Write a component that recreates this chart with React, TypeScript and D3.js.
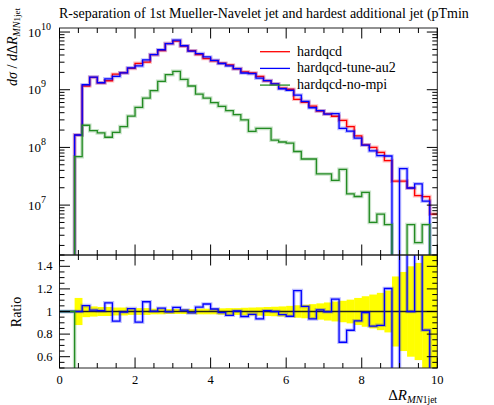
import React from 'react';
import * as d3 from 'd3';

// bins of 0.2 in Delta R, low edges
const binLow = [
  0.4, 0.6, 0.8, 1.0, 1.2, 1.4, 1.6, 1.8, 2.0, 2.2,
  2.4, 2.6, 2.8, 3.0, 3.2, 3.4, 3.6, 3.8, 4.0, 4.2,
  4.4, 4.6, 4.8, 5.0, 5.2, 5.4, 5.6, 5.8, 6.0, 6.2,
  6.4, 6.6, 6.8, 7.0, 7.2, 7.4, 7.6, 7.8, 8.0, 8.2,
  8.4, 8.6, 8.8, 9.0, 9.2, 9.4, 9.6, 9.8,
];
const xMax = 10;

const labels = ['hardqcd', 'hardqcd-tune-au2', 'hardqcd-no-mpi'];

const hardqcd = [
  1.64e8, 1.16e9, 1.64e9, 1.31e9, 1.43e9, 1.86e9, 1.97e9, 2.34e9, 2.86e9, 3.02e9,
  4.05e9, 4.79e9, 6.31e9, 6.98e9, 5.71e9, 4.74e9, 4.07e9, 3.47e9, 3.16e9, 2.88e9,
  2.69e9, 2.31e9, 2.04e9, 1.95e9, 1.70e9, 1.43e9, 1.26e9, 1.07e9, 1.02e9, 6.82e8,
  6.03e8, 5.21e8, 4.27e8, 3.80e8, 3.47e8, 2.94e8, 2.29e8, 1.58e8, 1.11e8, 1.0e8,
  8.2e7, 5.9e7, 2.6e7, 2.6e7, 1.98e7, 1.46e7, 1.40e7, 7.0e6,
];
const tuneAu2 = [
  1.64e8, 1.22e9, 1.66e9, 1.32e9, 1.54e9, 1.70e9, 1.96e9, 2.40e9, 2.59e9, 3.28e9,
  4.06e9, 4.93e9, 6.29e9, 7.23e9, 5.78e9, 4.68e9, 4.23e9, 3.70e9, 3.23e9, 2.85e9,
  2.60e9, 2.32e9, 1.95e9, 1.90e9, 1.59e9, 1.44e9, 1.26e9, 1.04e9, 9.77e8, 8.08e8,
  6.30e8, 4.87e8, 4.33e8, 3.79e8, 3.85e8, 2.14e8, 1.91e8, 1.45e8, 1.10e8, 8.7e7,
  7.2e7, 7.1e7, 0, 4.3e7, 1.98e7, 2.34e7, 1.17e7, 0,
];
const noMpi = [
  6.9e7, 2.42e8, 1.95e8, 1.78e8, 1.50e8, 1.82e8, 2.29e8, 3.50e8, 4.95e8, 7.18e8,
  9.62e8, 1.40e9, 1.82e9, 2.08e9, 1.51e9, 1.16e9, 8.41e8, 7.18e8, 5.96e8, 5.15e8,
  4.33e8, 3.69e8, 2.99e8, 1.90e8, 2.14e8, 2.14e8, 1.34e8, 1.24e8, 1.19e8, 8.5e7,
  6.3e7, 6.3e7, 3.47e7, 3.47e7, 2.68e7, 4.17e7, 1.57e7, 1.41e7, 1.66e7, 5.0e6,
  7.0e6, 4.6e6, 0, 0, 4.6e6, 2.24e6, 4.6e6, 0,
];

// relative uncertainty of the reference (hardqcd), shown as the yellow band
const errHardqcd = [
  0.12, 0.05, 0.045, 0.04, 0.04, 0.035, 0.035, 0.03, 0.03, 0.03,
  0.025, 0.025, 0.022, 0.022, 0.022, 0.022, 0.025, 0.025, 0.025, 0.028,
  0.03, 0.03, 0.033, 0.035, 0.037, 0.04, 0.042, 0.045, 0.05, 0.055,
  0.06, 0.065, 0.072, 0.08, 0.088, 0.095, 0.105, 0.12, 0.135, 0.15,
  0.165, 0.185, 0.31, 0.35, 0.4, 0.43, 0.5, 0.6,
];

const xTickLabels = [0, 2, 4, 6, 8, 10];
const yDecades = [7, 8, 9, 10];
const ratioTickLabels = [0.6, 0.8, 1, 1.2, 1.4];

const W = 494;
const H = 405;
const X0 = 59.5;
const X1 = 437.3;
const MT = 28;
const MB = 255;
const RT = 255;
const RB = 368;
const FONT = '"Liberation Serif", "DejaVu Serif", serif';
const FLOOR = 1e4;

export default function App() {
  const x = d3.scaleLinear().domain([0, xMax]).range([X0, X1]);
  const y = d3.scaleLog().domain([Math.pow(10, 6.135), Math.pow(10, 10.07)]).range([MB, MT]);
  const r = d3.scaleLinear().domain([0.5, 1.5]).range([RB, RT]);

  const series = [
    { name: labels[0], values: hardqcd, color: '#ff0000' },
    { name: labels[1], values: tuneAu2, color: '#0000ff' },
    { name: labels[2], values: noMpi, color: '#228b22' },
  ];

  const stepMain = d3.line<[number, number]>()
    .x(d => x(d[0]))
    .y(d => y(Math.max(d[1], FLOOR)))
    .curve(d3.curveStepAfter);
  const stepRatio = d3.line<[number, number]>()
    .x(d => x(d[0]))
    .y(d => r(d[1]))
    .curve(d3.curveStepAfter);

  const mainPts = (vals: number[]): [number, number][] => [
    [0, 0],
    ...binLow.map((lo, i) => [lo, vals[i]] as [number, number]),
    [xMax, vals[vals.length - 1]],
  ];
  const ratioPts = (vals: number[]): [number, number][] => {
    const rs = vals.map((v, i) => v / hardqcd[i]);
    return [[0, 1], ...binLow.map((lo, i) => [lo, rs[i]] as [number, number]), [xMax, rs[rs.length - 1]]];
  };

  const bw = x(0.2) - x(0);

  // ticks
  const xMinor = d3.range(0, xMax + 0.001, 0.5);
  const yMinor: { v: number; major: boolean }[] = [];
  for (let d = 6; d <= 10; d++) {
    for (let k = 1; k <= 9; k++) {
      const v = k * Math.pow(10, d);
      const [lo, hi] = y.domain();
      if (v >= lo && v <= hi) yMinor.push({ v, major: k === 1 });
    }
  }
  const rMinor = d3.range(0.5, 1.5001, 0.05);

  const tickColor = '#000';

  return (
    <svg width={W} height={H} style={{ position: 'absolute', left: 0, top: 0, background: '#fff' }} fontFamily={FONT}>
      <defs>
        <clipPath id="clipMain"><rect x={X0} y={MT} width={X1 - X0} height={MB - MT} /></clipPath>
        <clipPath id="clipRatio"><rect x={X0} y={RT} width={X1 - X0} height={RB - RT} /></clipPath>
      </defs>

      <text x={59} y={18} fontSize={14} fill="#000">
        R-separation of 1st Mueller-Navelet jet and hardest additional jet (pTmin
      </text>

      {/* main panel */}
      <g clipPath="url(#clipMain)">
        {series.map(s => (
          <g key={s.name}>
            <path d={stepMain(mainPts(s.values)) || ''} fill="none" stroke={s.color} strokeWidth={3.6} strokeOpacity={0.25} />
            <path d={stepMain(mainPts(s.values)) || ''} fill="none" stroke={s.color} strokeWidth={1.3} />
          </g>
        ))}
      </g>

      {/* ratio panel */}
      <g clipPath="url(#clipRatio)">
        {binLow.map((lo, i) => (
          <rect key={i} x={x(lo)} width={bw + 0.3}
            y={r(1 + errHardqcd[i])} height={r(1 - errHardqcd[i]) - r(1 + errHardqcd[i])}
            fill="#ffff00" />
        ))}
        <line x1={x(0)} x2={x(xMax)} y1={r(1)} y2={r(1)} stroke="#222" strokeWidth={1.3} />
        {series.slice(1).map(s => (
          <g key={s.name}>
            <path d={stepRatio(ratioPts(s.values)) || ''} fill="none" stroke={s.color} strokeWidth={3.6} strokeOpacity={0.25} />
            <path d={stepRatio(ratioPts(s.values)) || ''} fill="none" stroke={s.color} strokeWidth={1.3} />
          </g>
        ))}
      </g>

      {/* frames */}
      <rect x={X0} y={MT} width={X1 - X0} height={MB - MT} fill="none" stroke="#222" strokeWidth={1} />
      <rect x={X0} y={RT} width={X1 - X0} height={RB - RT} fill="none" stroke="#222" strokeWidth={1} />

      {/* x ticks on both panels */}
      {xMinor.map(v => {
        const major = Math.abs(v % 2) < 1e-6;
        const len = major ? 10.5 : 5;
        const px = x(v);
        return (
          <g key={v} stroke={tickColor} strokeWidth={1}>
            <line x1={px} x2={px} y1={MB} y2={MB - len} />
            <line x1={px} x2={px} y1={MT} y2={MT + len} />
            <line x1={px} x2={px} y1={RB} y2={RB - len} />
            <line x1={px} x2={px} y1={RT} y2={RT + len} />
          </g>
        );
      })}

      {/* log y ticks */}
      {yMinor.map(t => {
        const len = t.major ? 10.5 : 5;
        const py = y(t.v);
        return (
          <g key={t.v} stroke={tickColor} strokeWidth={1}>
            <line x1={X0} x2={X0 + len} y1={py} y2={py} />
            <line x1={X1} x2={X1 - len} y1={py} y2={py} />
          </g>
        );
      })}

      {/* ratio y ticks */}
      {rMinor.map(v => {
        const major = Math.abs(((v - 0.6) / 0.2) - Math.round((v - 0.6) / 0.2)) < 1e-6;
        const len = major ? 10.5 : 5;
        const py = r(v);
        return (
          <g key={v.toFixed(2)} stroke={tickColor} strokeWidth={1}>
            <line x1={X0} x2={X0 + len} y1={py} y2={py} />
            <line x1={X1} x2={X1 - len} y1={py} y2={py} />
          </g>
        );
      })}

      {/* tick labels */}
      {yDecades.map(d => (
        <text key={d} x={28} y={y(Math.pow(10, d)) + 4.5} fontSize={13} fill="#000">
          10<tspan dy={-7} fontSize={10}>{d}</tspan>
        </text>
      ))}
      {ratioTickLabels.map(v => (
        <text key={v} x={52.5} y={r(v) + 4} fontSize={12.5} textAnchor="end" fill="#000">{String(v)}</text>
      ))}
      {xTickLabels.map(v => (
        <text key={v} x={x(v)} y={384} fontSize={12.5} textAnchor="middle" fill="#000">{v}</text>
      ))}

      {/* axis labels */}
      <text transform="translate(17, 8) rotate(-90)" textAnchor="end" fontSize={14} fill="#000">
        <tspan fontStyle="italic">dσ</tspan> / <tspan fontStyle="italic">d</tspan>Δ<tspan fontStyle="italic">R</tspan>
        <tspan dy={3} fontSize={10} fontStyle="italic">MN</tspan><tspan fontSize={9}>1jet</tspan>
      </text>
      <text transform="translate(21, 312) rotate(-90)" textAnchor="middle" fontSize={14} fill="#000">Ratio</text>
      <text x={437} y={400} textAnchor="end" fontSize={15} fill="#000">
        Δ<tspan fontStyle="italic">R</tspan><tspan dy={3} fontSize={10.5} fontStyle="italic">MN</tspan><tspan fontSize={9.5}>1jet</tspan>
      </text>

      {/* legend */}
      {series.map((s, i) => (
        <g key={s.name}>
          <line x1={260} x2={290} y1={51.7 + i * 16.7} y2={51.7 + i * 16.7} stroke={s.color} strokeWidth={1.3} />
          <text x={297} y={51.7 + i * 16.7 + 4} fontSize={14} fill="#000">{s.name}</text>
        </g>
      ))}
    </svg>
  );
}
